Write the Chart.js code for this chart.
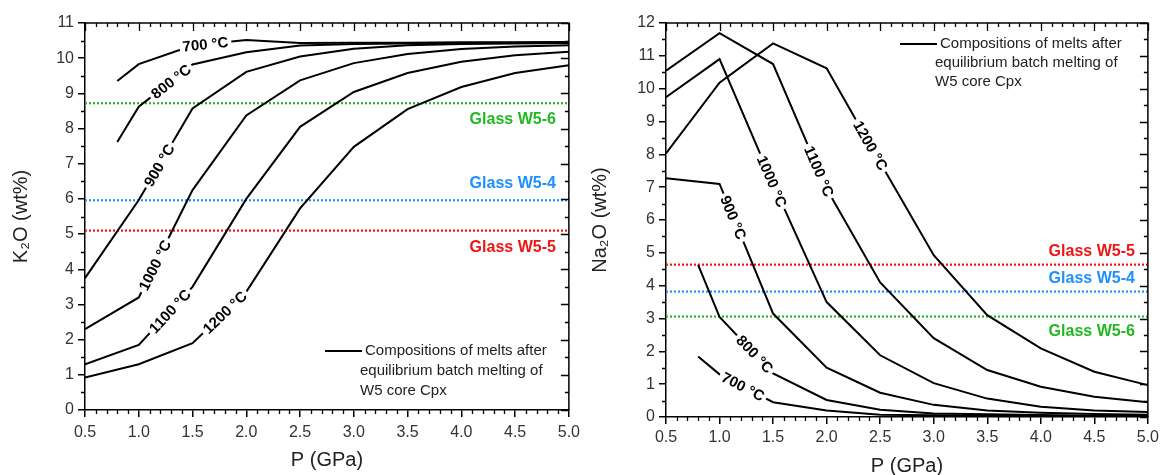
<!DOCTYPE html>
<html lang="en">
<head>
<meta charset="UTF-8">
<title>K2O and Na2O of melts vs pressure</title>
<script src="https://cdn.jsdelivr.net/npm/chart.js"></script>
<style>
  body { margin: 0; background: #fff; }
  .panel { position: absolute; top: 0; height: 475px; }
  #left { left: 0; width: 586px; }
  #right { left: 584px; width: 579px; }
</style>
</head>
<body>
<div class="panel" id="left"><canvas id="k2oChart"></canvas></div>
<div class="panel" id="right"><canvas id="na2oChart"></canvas></div>
<script>
// pressure steps (GPa); the 700 and 800 °C runs start at 0.8 GPa
const pressure = [0.5, 1.0, 1.5, 2.0, 2.5, 3.0, 3.5, 4.0, 4.5, 5.0];
const pressureFrom08 = [0.8, 1.0, 1.5, 2.0, 2.5, 3.0, 3.5, 4.0, 4.5, 5.0];
const temps = ['700 °C', '800 °C', '900 °C', '1000 °C', '1100 °C', '1200 °C'];

// K2O (wt%)
const k2o700 = [9.35, 9.83, 10.36, 10.52, 10.43, 10.44, 10.44, 10.45, 10.45, 10.46];
const k2o800 = [7.62, 8.62, 9.82, 10.17, 10.36, 10.40, 10.42, 10.43, 10.44, 10.45];
const k2o900 = [3.75, 5.97, 8.57, 9.61, 10.05, 10.27, 10.37, 10.40, 10.42, 10.43];
const k2o1000 = [2.30, 3.20, 6.25, 8.37, 9.37, 9.86, 10.12, 10.26, 10.33, 10.37];
const k2o1100 = [1.30, 1.85, 3.50, 6.00, 8.05, 9.04, 9.58, 9.90, 10.08, 10.18];
const k2o1200 = [0.92, 1.30, 1.90, 3.36, 5.73, 7.48, 8.55, 9.18, 9.58, 9.80];

// Na2O (wt%)
const na2o700 = [1.84, 1.30, 0.45, 0.20, 0.07, 0.05, 0.04, 0.03, 0.02, 0.02];
const na2o800 = [4.63, 3.05, 1.33, 0.52, 0.22, 0.11, 0.08, 0.06, 0.04, 0.03];
const na2o900 = [7.27, 7.10, 3.15, 1.50, 0.74, 0.37, 0.20, 0.13, 0.09, 0.07];
const na2o1000 = [9.74, 10.90, 7.10, 3.50, 1.88, 1.03, 0.56, 0.31, 0.20, 0.15];
const na2o1100 = [10.55, 11.69, 10.75, 6.95, 4.10, 2.40, 1.43, 0.92, 0.62, 0.45];
const na2o1200 = [8.03, 10.18, 11.38, 10.62, 7.75, 4.93, 3.10, 2.09, 1.38, 0.97];

// glass compositions
const glassNames = ['Glass W5-6', 'Glass W5-4', 'Glass W5-5'];
const glassColors = ['#22b822', '#1e8fff', '#f01414'];
const k2oGlass = [8.72, 5.96, 5.10];
const na2oGlass = [3.06, 3.82, 4.64];

// where each temperature label sits along its curve (P, GPa)
const k2oLabelAt = [1.62, 1.30, 1.19, 1.15, 1.29, 1.80];
const na2oLabelAt = [1.22, 1.33, 1.13, 1.49, 1.93, 2.41];

const legendLines = ['Compositions of melts after', 'equilibrium batch melting of', 'W5 core Cpx'];

Chart.defaults.font.family = "'Liberation Sans', Arial, sans-serif";
Chart.defaults.color = '#333';

function curve(xs, ys) {
  return {
    data: xs.map((x, i) => ({ x: x, y: ys[i] })),
    borderColor: '#000', borderWidth: 2, pointRadius: 0, tension: 0, showLine: true
  };
}

function glassLine(value, color) {
  return {
    data: [{ x: 0.5, y: value }, { x: 5.0, y: value }],
    borderColor: color, borderWidth: 2.2, borderDash: [2, 2], pointRadius: 0, showLine: true
  };
}

function pointOnCurve(chart, dsIndex, at) {
  const pts = chart.data.datasets[dsIndex].data;
  const xs = chart.scales.x, ys = chart.scales.y;
  for (let i = 0; i < pts.length - 1; i++) {
    const a = pts[i], b = pts[i + 1];
    if (at >= a.x && at <= b.x) {
      const t = (at - a.x) / (b.x - a.x);
      const ax = xs.getPixelForValue(a.x), ay = ys.getPixelForValue(a.y);
      const bx = xs.getPixelForValue(b.x), by = ys.getPixelForValue(b.y);
      return { x: ax + t * (bx - ax), y: ay + t * (by - ay), angle: Math.atan2(by - ay, bx - ax) };
    }
  }
  return null;
}

const decorPlugin = {
  id: 'decor',
  afterDatasetsDraw(chart, args, opts) {
    const ctx = chart.ctx;
    const { left, right, top, bottom } = chart.chartArea;
    const xs = chart.scales.x, ys = chart.scales.y;
    ctx.save();

    // frame on top and right
    ctx.strokeStyle = '#000';
    ctx.lineWidth = 1.5;
    ctx.beginPath();
    ctx.moveTo(left, top); ctx.lineTo(right, top); ctx.lineTo(right, bottom);
    ctx.stroke();

    // minor ticks outside, mirrored ticks inside
    ctx.beginPath();
    for (let i = 0; i <= 45; i++) {
      const px = Math.round(xs.getPixelForValue(0.5 + i * 0.1)) + 0.5;
      const major = i % 5 === 0;
      if (!major) { ctx.moveTo(px, bottom); ctx.lineTo(px, bottom + 4); }
      ctx.moveTo(px, top); ctx.lineTo(px, top + (major ? 8 : 4));
    }
    for (let j = 0; j <= ys.max * 2; j++) {
      const py = Math.round(ys.getPixelForValue(j * 0.5)) + 0.5;
      const major = j % 2 === 0;
      if (!major) { ctx.moveTo(left - 4, py); ctx.lineTo(left, py); }
      ctx.moveTo(right, py); ctx.lineTo(right - (major ? 8 : 4), py);
    }
    ctx.lineWidth = 1.3;
    ctx.stroke();

    // temperature labels along the curves
    ctx.font = "bold 15px 'Liberation Sans', Arial, sans-serif";
    ctx.textAlign = 'center';
    ctx.textBaseline = 'middle';
    opts.labelAt.forEach((at, k) => {
      const p = pointOnCurve(chart, k, at);
      if (!p) return;
      const w = ctx.measureText(temps[k]).width;
      ctx.save();
      ctx.translate(p.x, p.y);
      ctx.rotate(p.angle);
      ctx.fillStyle = '#fff';
      ctx.fillRect(-w / 2 - 3, -8, w + 6, 16);
      ctx.fillStyle = '#000';
      ctx.fillText(temps[k], 0, 1);
      ctx.restore();
    });

    // glass labels
    ctx.font = "bold 16px 'Liberation Sans', Arial, sans-serif";
    ctx.textAlign = 'right';
    opts.glass.forEach((v, k) => {
      ctx.fillStyle = glassColors[k];
      ctx.fillText(glassNames[k], right - 13, ys.getPixelForValue(v) + opts.glassOffset[k]);
    });

    // legend
    const lx = left + opts.legend.dx, ly = opts.legend.y;
    ctx.strokeStyle = '#000';
    ctx.lineWidth = 2;
    ctx.beginPath();
    ctx.moveTo(lx, ly); ctx.lineTo(lx + 37, ly);
    ctx.stroke();
    ctx.font = "15px 'Liberation Sans', Arial, sans-serif";
    ctx.textAlign = 'left';
    ctx.fillStyle = '#222';
    legendLines.forEach((t, k) => {
      ctx.fillText(t, k === 0 ? lx + 40 : lx + 35, ly + k * opts.legend.step);
    });

    ctx.restore();
  }
};

function makeChart(id, cfg) {
  const axisLine = { color: '#000', width: 1.5 };
  const gridOut = { drawOnChartArea: false, tickLength: 7, color: '#000', lineWidth: 1.5 };
  return new Chart(document.getElementById(id), {
    type: 'scatter',
    data: { datasets: cfg.datasets },
    options: {
      responsive: true,
      maintainAspectRatio: false,
      animation: false,
      layout: { padding: cfg.padding },
      plugins: { legend: { display: false }, tooltip: { enabled: false }, decor: cfg.decor },
      scales: {
        x: {
          type: 'linear', min: 0.5, max: 5.0,
          ticks: { stepSize: 0.5, callback: v => v.toFixed(1), font: { size: 16 }, padding: cfg.xTickPad, maxRotation: 0, autoSkip: false },
          grid: gridOut, border: axisLine,
          title: { display: true, text: 'P (GPa)', font: { size: 20 }, color: '#222', padding: { bottom: cfg.xTitlePad } },
          afterFit: s => { s.height = cfg.xHeight; }
        },
        y: {
          min: 0, max: cfg.yMax,
          ticks: { stepSize: 1, font: { size: 16 }, padding: 4 },
          grid: gridOut, border: axisLine,
          title: { display: true, text: cfg.yTitle, font: { size: 20 }, color: '#222', padding: { top: cfg.yTitlePad } },
          afterFit: s => { s.width = cfg.yWidth; }
        }
      }
    },
    plugins: [decorPlugin]
  });
}

makeChart('k2oChart', {
  datasets: [
    curve(pressureFrom08, k2o700), curve(pressureFrom08, k2o800), curve(pressure, k2o900),
    curve(pressure, k2o1000), curve(pressure, k2o1100), curve(pressure, k2o1200),
    ...k2oGlass.map((v, k) => glassLine(v, glassColors[k]))
  ],
  padding: { top: 23, right: 0, left: 0, bottom: 0 },
  yMax: 11, yTitle: 'K₂O (wt%)', yWidth: 85, xHeight: 65, xTickPad: 6, xTitlePad: 3, yTitlePad: 9,
  decor: { labelAt: k2oLabelAt, glass: k2oGlass, glassOffset: [16, -17, 17], legend: { dx: 240, y: 351, step: 20 } }
});

makeChart('na2oChart', {
  datasets: [
    curve(pressureFrom08, na2o700), curve(pressureFrom08, na2o800), curve(pressure, na2o900),
    curve(pressure, na2o1000), curve(pressure, na2o1100), curve(pressure, na2o1200),
    ...na2oGlass.map((v, k) => glassLine(v, glassColors[k]))
  ],
  padding: { top: 23, right: 0, left: 0, bottom: 0 },
  yMax: 12, yTitle: 'Na₂O (wt%)', yWidth: 82, xHeight: 58, xTickPad: 4, xTitlePad: -3, yTitlePad: 4,
  decor: { labelAt: na2oLabelAt, glass: na2oGlass, glassOffset: [15, -13, -13], legend: { dx: 234, y: 44, step: 19 } }
});
</script>
</body>
</html>
